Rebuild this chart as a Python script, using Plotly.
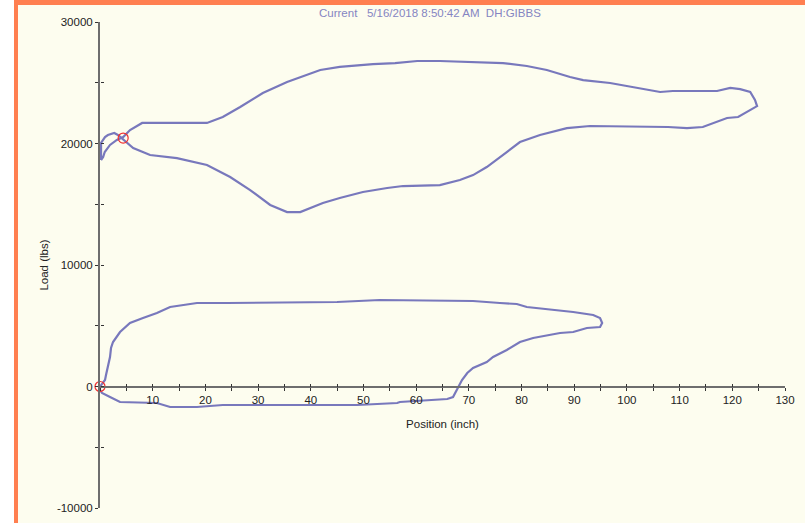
import plotly.graph_objects as go

# Surface card (upper loop): position (inch), load (lbs)
surf_pos = [0.2, 0.6, 0.9, 1.9, 3.2, 4.4, 5.7, 8.0, 20.3, 23.3, 26.6, 30.9, 35.5, 38.0, 41.8,
            45.5, 51.8, 56.0, 60.2, 64.5, 68.9, 76.5, 81.0, 84.8, 89.2, 91.7, 96.8, 102.5,
            106.3, 108.7, 117.1, 119.6, 121.5, 123.4, 124.3, 124.7, 123.4, 121.1, 119.0,
            116.3, 114.4, 111.4, 107.8, 93.0, 88.6, 83.5, 79.7, 77.2, 73.4, 70.8, 68.3, 64.5,
            57.5, 54.5, 49.9, 45.5, 42.3, 38.0, 35.5, 32.3, 28.5, 24.7, 20.3, 14.6, 9.5, 6.3,
            4.4, 3.4, 2.7, 1.5, 0.95, 0.2, 0.2]
surf_load = [18640, 18890, 19300, 19880, 20290, 20530, 21110, 21690, 21690, 22180, 23000,
             24150, 25060, 25470, 26050, 26300, 26540, 26620, 26790, 26790, 26710, 26620,
             26380, 26050, 25470, 25220, 24980, 24570, 24240, 24320, 24320, 24570, 24480,
             24240, 23580, 23080, 22760, 22180, 22100, 21690, 21360, 21270, 21360, 21440,
             21270, 20700, 20120, 19300, 18060, 17400, 17000, 16580, 16500, 16340, 16010,
             15510, 15100, 14360, 14360, 14940, 16170, 17240, 18230, 18800, 19050, 19630,
             20370, 20700, 20860, 20700, 20530, 20040, 18640]

# Downhole card (lower loop)
dh_pos = [0.0, 0.57, 0.95, 1.14, 1.52, 1.9, 2.09, 2.47, 3.8, 5.69, 8.16, 10.8, 13.3, 15.75,
          18.4, 24.1, 45.0, 53.1, 70.8, 75.9, 79.1, 81.0, 84.8, 89.8, 93.6, 94.9, 95.3, 94.9,
          92.4, 89.8, 87.3, 82.2, 79.7, 77.2, 74.6, 73.4, 70.8, 69.7, 68.7, 67.9, 67.0, 65.9,
          63.2, 56.9, 56.4, 48.8, 42.3, 29.8, 23.3, 18.4, 13.3, 10.8, 6.3, 3.8, 1.9, 0.38,
          0.0, 0.0]
dh_load = [0, 370, 535, 946, 1605, 2428, 3168, 3662, 4485, 5226, 5637, 6049, 6543, 6707,
           6872, 6872, 6954, 7119, 7036, 6872, 6790, 6543, 6378, 6131, 5884, 5637, 5226,
           4896, 4815, 4485, 4403, 3991, 3662, 3004, 2428, 2016, 1523, 1111, 535, -123, -864,
           -1029, -1111, -1276, -1358, -1523, -1523, -1523, -1523, -1687, -1687, -1358, -1276,
           -1276, -864, -535, -288, 0]

# Marked points (red circles)
mark_pos = [0.0, 4.4]
mark_load = [0, 20450]

x_ticks = [10, 20, 30, 40, 50, 60, 70, 80, 90, 100, 110, 120, 130]
y_ticks = [-10000, 0, 10000, 20000, 30000]

title_text = "Current\u00a0\u00a0\u00a05/16/2018 8:50:42 AM\u00a0\u00a0DH:GIBBS"

LINE = "#7878BC"
AX = "#6E6E6E"
FONT = "Liberation Sans, Arial, sans-serif"
CREAM = "#FDFDEF"

fig = go.Figure()
fig.add_trace(go.Scatter(x=surf_pos, y=surf_load, mode="lines",
                         line=dict(color=LINE, width=2.2), hoverinfo="skip"))
fig.add_trace(go.Scatter(x=dh_pos, y=dh_load, mode="lines",
                         line=dict(color=LINE, width=2.2), hoverinfo="skip"))
fig.add_trace(go.Scatter(x=mark_pos, y=mark_load, mode="markers", xaxis="x2", yaxis="y2",
                         marker=dict(symbol="circle-open", size=10, color="#F03030",
                                     line=dict(width=1.2, color="#F03030")),
                         cliponaxis=False, hoverinfo="skip"))

W, H = 805, 523
L, R, T, B = 100, 20, 22, 15
pw, ph = W - L - R, H - T - B


def px(x):
    return (x - L) / pw


def py(y):
    return (H - B - y) / ph


fig.update_layout(
    width=W, height=H,
    margin=dict(l=L, r=R, t=T, b=B, autoexpand=False),
    paper_bgcolor="white",
    plot_bgcolor="rgba(0,0,0,0)",
    showlegend=False,
    font=dict(family=FONT, size=11.5, color="#222222"),
    shapes=[
        dict(type="rect", xref="paper", yref="paper", x0=px(14), x1=px(830),
             y0=py(540), y1=py(-5), fillcolor="#FF7F50", line=dict(width=0), layer="below"),
        dict(type="rect", xref="paper", yref="paper", x0=px(18), x1=px(830),
             y0=py(540), y1=py(5), fillcolor=CREAM, line=dict(width=0), layer="below"),
    ],
    annotations=[
        dict(text=title_text, xref="paper", yref="paper", x=px(430), y=py(13),
             xanchor="center", yanchor="middle", showarrow=False,
             font=dict(family=FONT, size=11.5, color="#8585C2")),
    ],
    xaxis=dict(
        range=[0, 130], anchor="free", position=0.25,
        showline=True, linecolor=AX, linewidth=2,
        tickmode="array", tickvals=x_ticks, ticktext=[str(v) for v in x_ticks],
        ticks="outside", ticklen=3, tickwidth=1, tickcolor="#333333",
        minor=dict(tickmode="linear", tick0=0, dtick=5, ticks="outside", ticklen=3,
                   tickwidth=1, tickcolor="#333333"),
        showgrid=False, zeroline=False,
        title=dict(text="Position (inch)", font=dict(size=11.5), standoff=14),
        fixedrange=True,
    ),
    yaxis=dict(
        range=[-10000, 30000],
        showline=True, linecolor=AX, linewidth=2,
        tickmode="array", tickvals=y_ticks, ticktext=[str(v) for v in y_ticks],
        ticks="outside", ticklen=3, tickwidth=1, tickcolor="#333333",
        minor=dict(tickmode="linear", tick0=0, dtick=5000, ticks="outside", ticklen=3,
                   tickwidth=1, tickcolor="#333333"),
        showgrid=False, zeroline=False,
        title=dict(text="Load (lbs)", font=dict(size=11.5), standoff=6),
        fixedrange=True,
    ),
    xaxis2=dict(
        range=[0, 130], overlaying="x", anchor="free", position=0.25,
        showline=False, showticklabels=False,
        tickmode="array", tickvals=x_ticks,
        ticks="inside", ticklen=3, tickwidth=1, tickcolor="#333333",
        minor=dict(tickmode="linear", tick0=0, dtick=5, ticks="inside", ticklen=3,
                   tickwidth=1, tickcolor="#333333"),
        showgrid=False, zeroline=False, fixedrange=True,
    ),
    yaxis2=dict(
        range=[-10000, 30000], overlaying="y", anchor="free", position=0, side="left",
        showline=False, showticklabels=False,
        tickmode="array", tickvals=y_ticks,
        ticks="inside", ticklen=3, tickwidth=1, tickcolor="#333333",
        minor=dict(tickmode="linear", tick0=0, dtick=5000, ticks="inside", ticklen=3,
                   tickwidth=1, tickcolor="#333333"),
        showgrid=False, zeroline=False, fixedrange=True,
    ),
)

fig.write_html(
    "out.html",
    config={"displayModeBar": False},
    post_script="document.body.style.margin='0';document.body.style.overflow='hidden';",
)
